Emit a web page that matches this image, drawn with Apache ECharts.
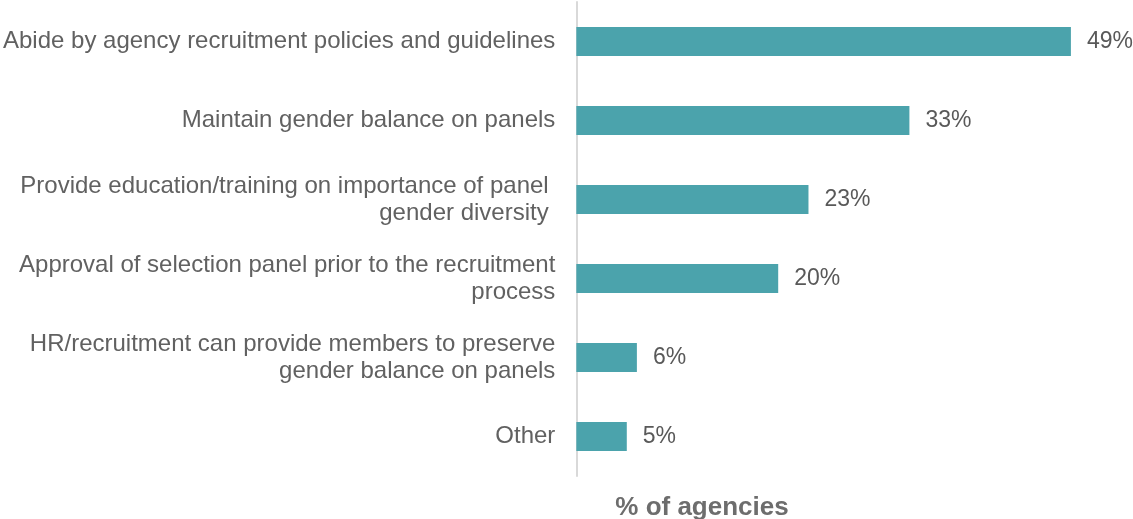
<!DOCTYPE html>
<html>
<head>
<meta charset="utf-8">
<script src="https://cdn.jsdelivr.net/npm/echarts@6/dist/echarts.min.js"></script>
<style>
  html, body { margin: 0; padding: 0; background: #ffffff; }
  #chart { width: 1133px; height: 519px; }
</style>
</head>
<body>
<div id="chart"></div>
<script>
// Measures agencies use for selection panel gender balance (top to bottom)
const categories = [
  'Abide by agency recruitment policies and guidelines',
  'Maintain gender balance on panels',
  'Provide education/training on importance of panel \ngender diversity ',
  'Approval of selection panel prior to the recruitment\nprocess',
  'HR/recruitment can provide members to preserve\ngender balance on panels',
  'Other'
];
const shareOfAgencies = [49, 33, 23, 20, 6, 5];
const axisTitle = '% of agencies';

const chart = echarts.init(document.getElementById('chart'), null, { renderer: 'canvas' });

chart.setOption({
  animation: false,
  grid: { left: 576, right: 52, top: 2, bottom: 43, containLabel: false },
  xAxis: {
    type: 'value',
    min: 0,
    max: 50,
    show: false
  },
  yAxis: {
    type: 'category',
    inverse: true,
    data: categories,
    axisLine: { show: true, lineStyle: { color: '#d9d9d9', width: 2 } },
    axisTick: { show: false },
    axisLabel: {
      color: '#616161',
      fontFamily: 'Liberation Sans, Arial, sans-serif',
      fontSize: 24,
      lineHeight: 27,
      margin: 21,
      align: 'right'
    }
  },
  title: {
    text: axisTitle,
    left: 697,
    top: 490,
    textAlign: 'center',
    textStyle: {
      color: '#6d6d6d',
      fontFamily: 'Liberation Sans, Arial, sans-serif',
      fontSize: 26,
      fontWeight: 'bold'
    }
  },
  series: [{
    type: 'bar',
    data: shareOfAgencies,
    barWidth: 29,
    itemStyle: { color: '#4ba3ac' },
    label: {
      show: true,
      position: 'right',
      distance: 16,
      formatter: '{c}%',
      color: '#595959',
      fontFamily: 'Liberation Sans, Arial, sans-serif',
      fontSize: 23
    }
  }]
});
</script>
</body>
</html>
